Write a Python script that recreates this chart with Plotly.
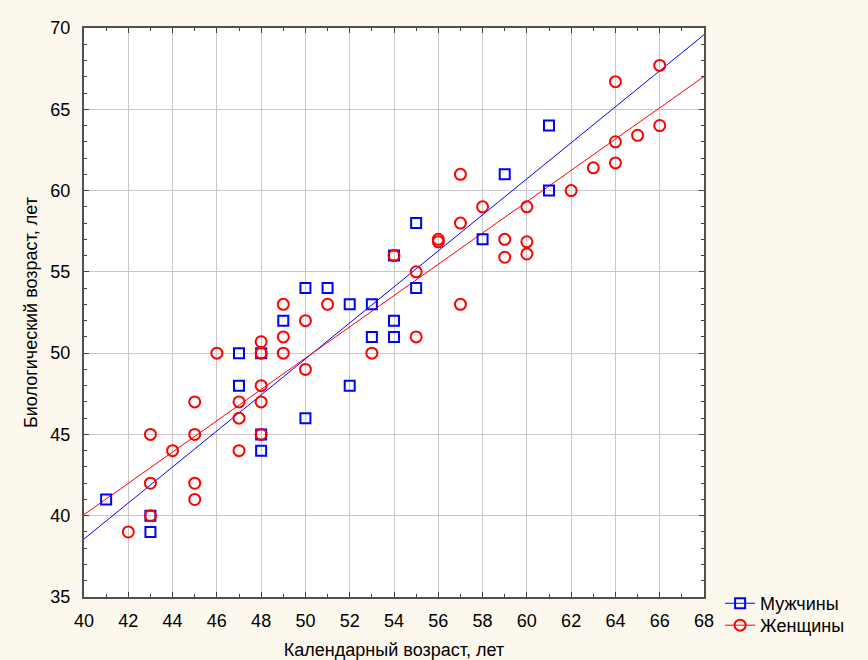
import numpy as np
import plotly.graph_objects as go

# Men (squares)
men_x = [41, 43, 43, 47, 47, 48, 48, 48, 49, 50, 50, 51, 52, 52, 53, 53, 54, 54, 54, 55, 55, 58, 59, 61, 61]
men_y = [41, 40, 39, 50, 48, 50, 45, 44, 52, 54, 46, 54, 53, 48, 53, 51, 56, 52, 51, 58, 54, 57, 61, 64, 60]

# Women (circles)
women_x = [42, 43, 43, 43, 44, 45, 45, 45, 45, 46, 47, 47, 47, 48, 48, 48, 48, 48,
           49, 49, 49, 50, 50, 51, 53, 54, 55, 55, 56, 56, 57, 57, 57, 58, 59, 59,
           60, 60, 60, 62, 63, 64, 64, 64, 65, 66, 66]
women_y = [39, 45, 42, 40, 44, 47, 45, 42, 41, 50, 47, 46, 44, 50.7, 50, 48, 47, 45,
           53, 51, 50, 52, 49, 53, 50, 56, 55, 51, 57, 56.85, 61, 58, 53, 59, 57, 55.9,
           59, 56.85, 56.1, 60, 61.4, 66.7, 63, 61.7, 63.4, 67.7, 64]

x_ticks = list(range(40, 69, 2))
y_ticks = list(range(35, 71, 5))

FONT = "Liberation Sans, Arial, sans-serif"
BLUE = "#0000FF"
RED = "#FF0000"

fig = go.Figure()

fit_x = np.array([40.0, 68.0])
mb = np.polyfit(men_x, men_y, 1)
wb = np.polyfit(women_x, women_y, 1)

fig.add_trace(go.Scatter(x=fit_x, y=np.polyval(mb, fit_x), mode="lines",
                         line=dict(color=BLUE, width=1), showlegend=False, hoverinfo="skip"))
fig.add_trace(go.Scatter(x=fit_x, y=np.polyval(wb, fit_x), mode="lines",
                         line=dict(color=RED, width=1), showlegend=False, hoverinfo="skip"))

fig.add_trace(go.Scatter(x=men_x, y=men_y, mode="markers", showlegend=False,
                         marker=dict(symbol="square-open", size=10, color=BLUE,
                                     line=dict(color=BLUE, width=2))))
fig.add_trace(go.Scatter(x=women_x, y=women_y, mode="markers", showlegend=False,
                         marker=dict(symbol="circle-open", size=11, color=RED,
                                     line=dict(color=RED, width=2))))

# legend entries
fig.add_trace(go.Scatter(x=[None], y=[None], mode="lines+markers", name="Мужчины",
                         legend="legend",
                         line=dict(color=BLUE, width=1),
                         marker=dict(symbol="square-open", size=10, color=BLUE,
                                     line=dict(color=BLUE, width=2))))
fig.add_trace(go.Scatter(x=[None], y=[None], mode="lines+markers", name="Женщины",
                         legend="legend2",
                         line=dict(color=RED, width=1),
                         marker=dict(symbol="circle-open", size=11, color=RED,
                                     line=dict(color=RED, width=2))))

axis_common = dict(
    showline=True, linecolor="#505050", linewidth=2, mirror="ticks",
    ticks="inside", ticklen=5, tickcolor="#404040", tickwidth=1,
    showgrid=True, gridcolor="#C8C8C8", gridwidth=1, zeroline=False,
    automargin=False,
    tickfont=dict(family=FONT, size=18, color="black"),
)

fig.update_xaxes(range=[40, 68], tickvals=x_ticks, ticktext=[str(v) for v in x_ticks],
                 minor=dict(dtick=1, ticks="inside", ticklen=3, tickcolor="#404040", showgrid=False),
                 ticklabelstandoff=6,
                 title=dict(text="Календарный возраст, лет", font=dict(family=FONT, size=18, color="black"),
                            standoff=14),
                 **axis_common)
fig.update_yaxes(range=[35, 70], tickvals=y_ticks, ticktext=[str(v) for v in y_ticks],
                 minor=dict(dtick=1, ticks="inside", ticklen=3, tickcolor="#404040", showgrid=False),
                 ticklabelstandoff=8,
                 title=dict(text="Биологический возраст, лет", font=dict(family=FONT, size=18, color="black"),
                            standoff=8),
                 **axis_common)

legend_common = dict(xanchor="left", yanchor="top", bgcolor="rgba(0,0,0,0)",
                     font=dict(family=FONT, size=18, color="black"), itemwidth=30)

fig.update_layout(
    width=868, height=660,
    margin=dict(l=84, r=164, t=28, b=63),
    paper_bgcolor="#FDF8EE", plot_bgcolor="white",
    font=dict(family=FONT, size=18, color="black"),
    legend=dict(x=1.026, y=0.021, **legend_common),
    legend2=dict(x=1.026, y=-0.0175, **legend_common),
    showlegend=True,
)

fig.write_html("out.html")
